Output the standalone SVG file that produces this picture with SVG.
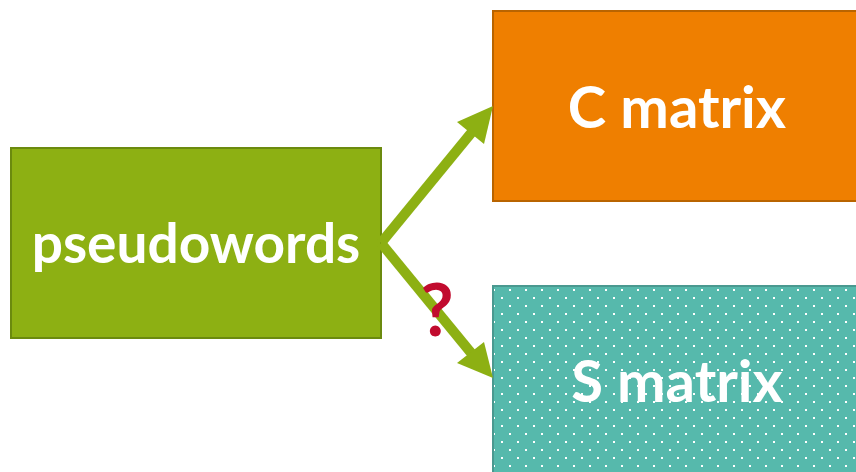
<svg xmlns="http://www.w3.org/2000/svg" width="856" height="472" viewBox="0 0 856 472">
  <defs>
    <pattern id="dots" patternUnits="userSpaceOnUse" x="0" y="0" width="16" height="16">
      <rect x="13" y="1" width="2" height="2" fill="#ffffff"/>
      <rect x="5" y="9" width="2" height="2" fill="#ffffff"/>
    </pattern>
    <style>
      .label { font-family: "Lato", "Liberation Sans", sans-serif; font-weight: 700; fill: #ffffff; text-anchor: middle; }
      .shaft { stroke: #8db013; stroke-width: 10; fill: none; }
      .head { fill: #8db013; }
    </style>
  </defs>
  <rect width="856" height="472" fill="#ffffff"/>

  <g id="node-pseudowords">
    <rect x="11" y="148" width="370" height="190" fill="#8db013" stroke="#6b8a0e" stroke-width="2"/>
    <text class="label" x="196" y="263" font-size="55">pseudowords</text>
  </g>

  <g id="node-c-matrix">
    <rect x="493" y="11" width="370" height="190" fill="#ef7f00" stroke="#b96400" stroke-width="2"/>
    <text class="label" x="677" y="128" font-size="58">C matrix</text>
  </g>

  <g id="node-s-matrix">
    <rect x="493" y="286" width="370" height="200" fill="#56b9ac" stroke="#4a9990" stroke-width="2"/>
    <rect x="494" y="287" width="368" height="198" fill="url(#dots)"/>
    <text class="label" x="677" y="402" font-size="58">S matrix</text>
  </g>

  <g id="connectors">
    <line class="shaft" x1="381" y1="243" x2="472" y2="132"/>
    <polygon class="head" points="493,106 457,122 484,144"/>
    <line class="shaft" x1="381" y1="243" x2="472" y2="354"/>
    <polygon class="head" points="493,378 457,363 484,342"/>
    <text x="437" y="336" font-family="Lato, 'Liberation Sans', sans-serif" font-weight="700" font-size="72" fill="#c10b2e" text-anchor="middle">?</text>
  </g>
</svg>
